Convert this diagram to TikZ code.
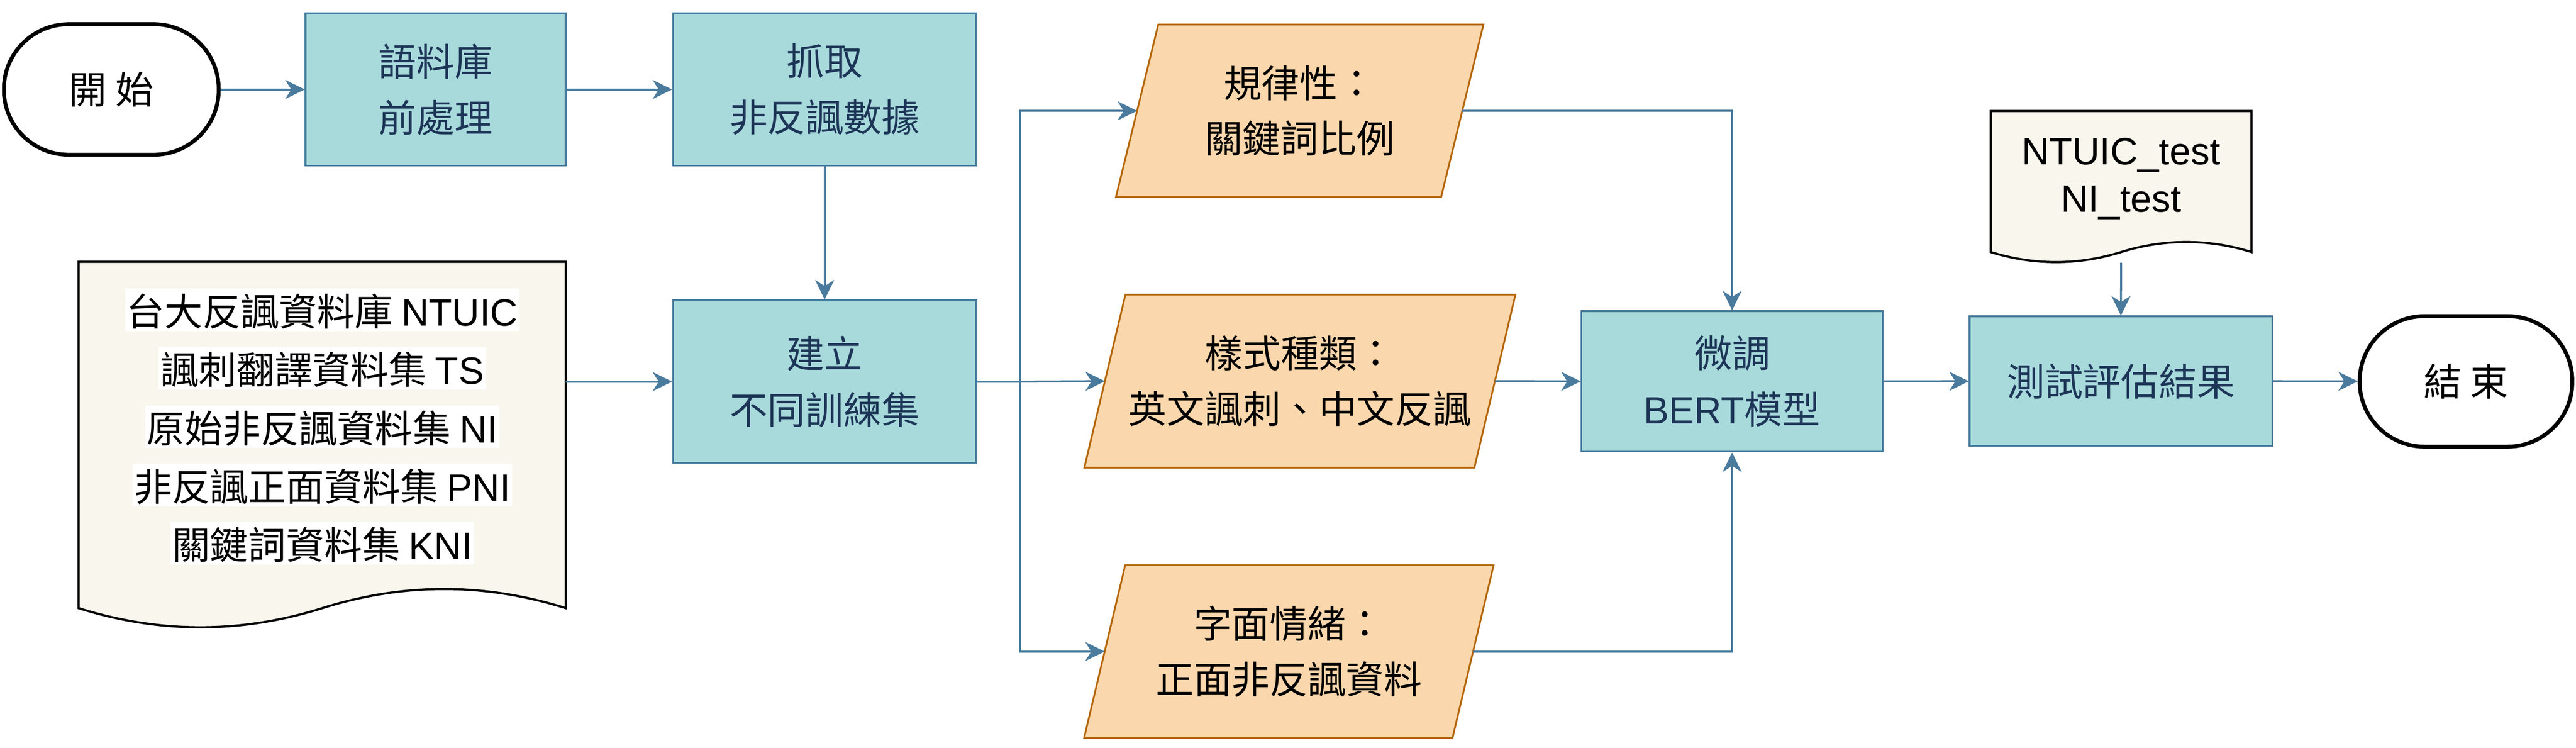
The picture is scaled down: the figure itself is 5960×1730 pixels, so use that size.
\documentclass[tikz,border=0pt]{standalone}
\usepackage{fontspec}
\setmainfont{Noto Sans CJK TC}
\newfontfamily\arial{Liberation Sans}
\usetikzlibrary{arrows.meta,backgrounds}
\definecolor{tealfill}{HTML}{A8DADC}
\definecolor{tealline}{HTML}{457B9D}
\definecolor{tealtext}{HTML}{1D3557}
\definecolor{sandfill}{HTML}{FAD7AC}
\definecolor{sandline}{HTML}{B46504}
\definecolor{paperfill}{HTML}{F9F7ED}
\definecolor{flowblue}{HTML}{4A7B9D}
\setlength{\fboxsep}{4pt}
\newcommand{\lineback}[1]{\colorbox{white}{\rule[-8pt]{0pt}{90pt}#1}}

\begin{document}
\begin{tikzpicture}[x=1pt,y=-1pt,
    flow/.style={draw=flowblue,line width=4.5pt,-{Stealth[length=45pt,width=44pt,inset=14pt]}},
    procbox/.style={rectangle,draw=tealline,fill=tealfill,line width=4pt,text=tealtext,
        align=center,inner sep=0pt,font=\fontsize{88pt}{130pt}\selectfont},
    termbox/.style={rectangle,rounded corners=150pt,draw=black,fill=white,line width=9pt,
        minimum width=497pt,minimum height=302pt,inner sep=0pt,font=\fontsize{88pt}{130pt}\selectfont},
    parabox/.style={rectangle,inner sep=0pt,align=center,font=\fontsize{88pt}{128pt}\selectfont},
    paraline/.style={draw=sandline,fill=sandfill,line width=4pt},
    docbox/.style={rectangle,inner sep=0pt,align=center},
    docline/.style={draw=black,fill=paperfill,line width=5pt}]
    %initialisation
    \useasboundingbox (0,0) rectangle (5960,1730);
    %definitions
    \node[termbox] (start) at (257.5,207) {開 始};
    \node[procbox,minimum width=602pt,minimum height=352pt] (prep) at (1008,207) {語料庫\\前處理};
    \node[procbox,minimum width=702pt,minimum height=352pt] (scrape) at (1908,207) {抓取\\非反諷數據};
    \node[procbox,minimum width=702pt,minimum height=376pt] (build) at (1908,883) {建立\\不同訓練集};
    \node[docbox,minimum width=1127pt,minimum height=762pt,font=\fontsize{88pt}{135pt}\selectfont] (corpus) at (745.5,987)
        {\lineback{台大反諷資料庫 {\arial NTUIC}}\\
         \lineback{諷刺翻譯資料集 {\arial TS}}\\
         \lineback{原始非反諷資料集 {\arial NI}}\\
         \lineback{非反諷正面資料集 {\arial PNI}}\\
         \lineback{關鍵詞資料集 {\arial KNI}}};
    \node[parabox,minimum width=752pt,minimum height=399pt] (rule) at (3007,256.5) {規律性：\\關鍵詞比例};
    \node[parabox,minimum width=902pt,minimum height=400pt] (style) at (3007.5,882) {樣式種類：\\英文諷刺、中文反諷};
    \node[parabox,minimum width=852pt,minimum height=399pt] (literal) at (2982,1507.5) {字面情緒：\\正面非反諷資料};
    \node[procbox,minimum width=697pt,minimum height=325pt] (tune) at (4007.5,882.5) {微調\\{\arial BERT}模型};
    \node[docbox,minimum width=603pt,minimum height=314pt,font=\arial\fontsize{88pt}{110pt}\selectfont] (testdoc) at (4907.5,414)
        {NTUIC\_test\\NI\_test};
    \node[procbox,minimum width=700pt,minimum height=300pt] (eval) at (4907,882) {測試評估結果};
    \node[termbox,minimum width=492pt] (end) at (5705.5,882.5) {結 束};
    \coordinate (split) at ([xshift=99pt]build.east);
    \coordinate (testout) at ([yshift=-37pt]testdoc.south);
    %drawing
    \begin{scope}[on background layer]
        \path[docline] (corpus.north west) -- (corpus.north east) -- ([yshift=-39pt]corpus.south east)
            .. controls +(-188,-59) and +(188,-59) .. ([yshift=-39pt]corpus.south)
            .. controls +(-188,59) and +(188,59) .. ([yshift=-39pt]corpus.south west) -- cycle;
        \path[docline] (testdoc.north west) -- (testdoc.north east) -- ([yshift=-12pt]testdoc.south east)
            .. controls +(-100,-31) and +(100,-31) .. ([yshift=-12pt]testdoc.south)
            .. controls +(-100,31) and +(100,31) .. ([yshift=-12pt]testdoc.south west) -- cycle;
        \path[paraline] ([xshift=49pt]rule.north west) -- ([xshift=49pt]rule.north east)
            -- ([xshift=-49pt]rule.south east) -- ([xshift=-49pt]rule.south west) -- cycle;
        \path[paraline] ([xshift=47.5pt]style.north west) -- ([xshift=47.5pt]style.north east)
            -- ([xshift=-47.5pt]style.south east) -- ([xshift=-47.5pt]style.south west) -- cycle;
        \path[paraline] ([xshift=47.5pt]literal.north west) -- ([xshift=47.5pt]literal.north east)
            -- ([xshift=-47.5pt]literal.south east) -- ([xshift=-47.5pt]literal.south west) -- cycle;
    \end{scope}
    %connectors
    \draw[flow] (start) -- (prep);
    \draw[flow] (prep) -- (scrape);
    \draw[flow] (scrape) -- (build);
    \draw[flow] (corpus.east |- build.west) -- (build.west);
    \draw[flow] (build.east) -- (split) |- (rule.west);
    \draw[flow] (split) -- (style.west);
    \draw[flow] (split) |- (literal.west);
    \draw[flow] (rule.east) -| (tune.north);
    \draw[flow] (style.east) -- (tune.west);
    \draw[flow] (literal.east) -| (tune.south);
    \draw[flow] (tune) -- (eval);
    \draw[flow] (testout) -- (eval.north);
    \draw[flow] (eval) -- (end);
\end{tikzpicture}
\end{document}
